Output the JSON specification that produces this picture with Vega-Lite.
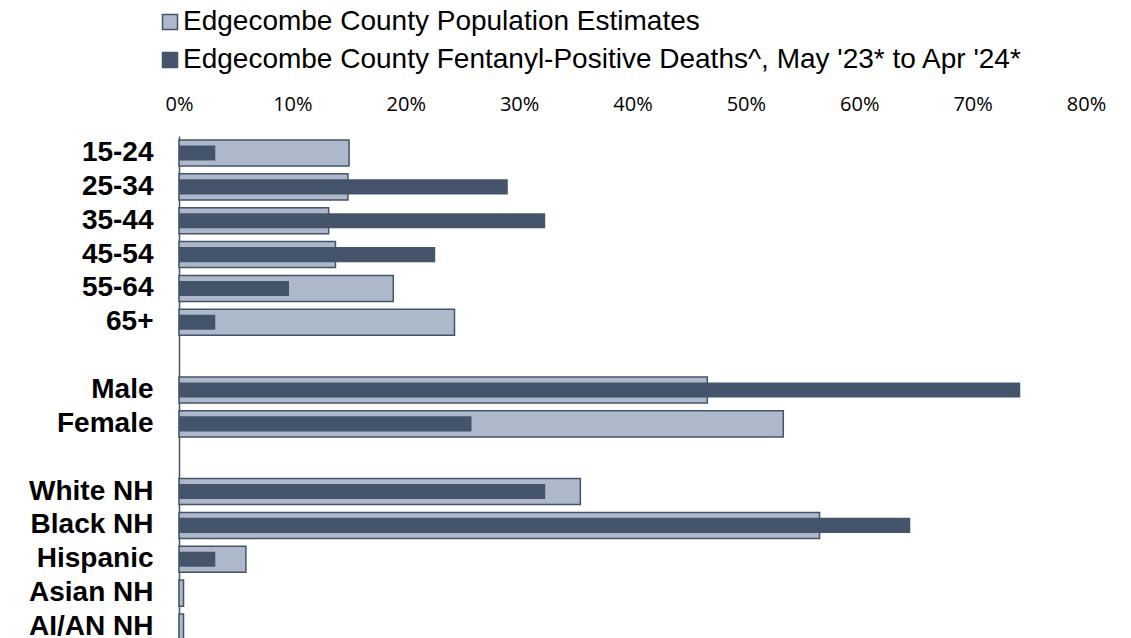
{
  "$schema": "https://vega.github.io/schema/vega-lite/v6.json",
  "autosize": "none",
  "width": 907,
  "height": 502,
  "padding": {"left": 179, "top": 136, "right": 45, "bottom": 0},
  "background": "white",
  "data": {
    "values": [
      {"category": "15-24", "series": "Edgecombe County Population Estimates", "value": 0.150},
      {"category": "25-34", "series": "Edgecombe County Population Estimates", "value": 0.149},
      {"category": "35-44", "series": "Edgecombe County Population Estimates", "value": 0.132},
      {"category": "45-54", "series": "Edgecombe County Population Estimates", "value": 0.138},
      {"category": "55-64", "series": "Edgecombe County Population Estimates", "value": 0.189},
      {"category": "65+", "series": "Edgecombe County Population Estimates", "value": 0.243},
      {"category": "Male", "series": "Edgecombe County Population Estimates", "value": 0.466},
      {"category": "Female", "series": "Edgecombe County Population Estimates", "value": 0.533},
      {"category": "White NH", "series": "Edgecombe County Population Estimates", "value": 0.354},
      {"category": "Black NH", "series": "Edgecombe County Population Estimates", "value": 0.565},
      {"category": "Hispanic", "series": "Edgecombe County Population Estimates", "value": 0.059},
      {"category": "Asian NH", "series": "Edgecombe County Population Estimates", "value": 0.004},
      {"category": "AI/AN NH", "series": "Edgecombe County Population Estimates", "value": 0.004},
      {"category": "15-24", "series": "Edgecombe County Fentanyl-Positive Deaths^, May '23* to Apr '24*", "value": 0.032},
      {"category": "25-34", "series": "Edgecombe County Fentanyl-Positive Deaths^, May '23* to Apr '24*", "value": 0.290},
      {"category": "35-44", "series": "Edgecombe County Fentanyl-Positive Deaths^, May '23* to Apr '24*", "value": 0.323},
      {"category": "45-54", "series": "Edgecombe County Fentanyl-Positive Deaths^, May '23* to Apr '24*", "value": 0.226},
      {"category": "55-64", "series": "Edgecombe County Fentanyl-Positive Deaths^, May '23* to Apr '24*", "value": 0.097},
      {"category": "65+", "series": "Edgecombe County Fentanyl-Positive Deaths^, May '23* to Apr '24*", "value": 0.032},
      {"category": "Male", "series": "Edgecombe County Fentanyl-Positive Deaths^, May '23* to Apr '24*", "value": 0.742},
      {"category": "Female", "series": "Edgecombe County Fentanyl-Positive Deaths^, May '23* to Apr '24*", "value": 0.258},
      {"category": "White NH", "series": "Edgecombe County Fentanyl-Positive Deaths^, May '23* to Apr '24*", "value": 0.323},
      {"category": "Black NH", "series": "Edgecombe County Fentanyl-Positive Deaths^, May '23* to Apr '24*", "value": 0.645},
      {"category": "Hispanic", "series": "Edgecombe County Fentanyl-Positive Deaths^, May '23* to Apr '24*", "value": 0.032},
      {"category": "Asian NH", "series": "Edgecombe County Fentanyl-Positive Deaths^, May '23* to Apr '24*", "value": 0},
      {"category": "AI/AN NH", "series": "Edgecombe County Fentanyl-Positive Deaths^, May '23* to Apr '24*", "value": 0}
    ]
  },
  "encoding": {
    "y": {
      "field": "category",
      "type": "nominal",
      "scale": {
        "domain": ["15-24", "25-34", "35-44", "45-54", "55-64", "65+", "gap1", "Male", "Female", "gap2", "White NH", "Black NH", "Hispanic", "Asian NH", "AI/AN NH"],
        "range": [0, 508],
        "paddingInner": 0.23,
        "paddingOuter": 0.118
      },
      "axis": {
        "title": null,
        "ticks": false,
        "grid": false,
        "domainColor": "#44546a",
        "domainWidth": 1.5,
        "labelFont": "Liberation Sans",
        "labelFontWeight": "bold",
        "labelFontSize": 28,
        "labelColor": "#000000",
        "labelPadding": 26,
        "labelExpr": "indexof(datum.value, 'gap') == 0 ? '' : datum.value"
      }
    },
    "x": {
      "field": "value",
      "type": "quantitative",
      "scale": {"domain": [0, 0.8], "nice": false},
      "axis": {
        "orient": "top",
        "title": null,
        "values": [0, 0.1, 0.2, 0.3, 0.4, 0.5, 0.6, 0.7, 0.8],
        "format": ".0%",
        "grid": false,
        "ticks": false,
        "domain": false,
        "labelFlush": false,
        "labelOverlap": false,
        "labelFont": "Open Sans",
        "labelFontSize": 20,
        "labelColor": "#000000",
        "labelPadding": 22
      }
    },
    "color": {
      "field": "series",
      "type": "nominal",
      "scale": {
        "domain": ["Edgecombe County Population Estimates", "Edgecombe County Fentanyl-Positive Deaths^, May '23* to Apr '24*"],
        "range": ["#adb9ca", "#44546a"]
      },
      "legend": {
        "title": null,
        "orient": "none",
        "legendX": -23,
        "legendY": -128,
        "direction": "vertical",
        "symbolType": "square",
        "symbolSize": 225,
        "symbolStrokeColor": "#44546a",
        "symbolStrokeWidth": 1.5,
        "symbolOpacity": 1,
        "labelFont": "Liberation Sans",
        "labelFontSize": 28,
        "labelColor": "#000000",
        "labelOffset": -1,
        "labelLimit": 1000,
        "rowPadding": 10
      }
    }
  },
  "layer": [
    {
      "transform": [{"filter": "datum.series == 'Edgecombe County Population Estimates'"}],
      "mark": {"type": "bar", "stroke": "#44546a", "strokeWidth": 1.5, "opacity": 1, "height": {"band": 1}}
    },
    {
      "transform": [{"filter": "datum.series != 'Edgecombe County Population Estimates'"}],
      "mark": {"type": "bar", "opacity": 1, "height": {"band": 0.58}}
    }
  ],
  "config": {"view": {"stroke": null}}
}
